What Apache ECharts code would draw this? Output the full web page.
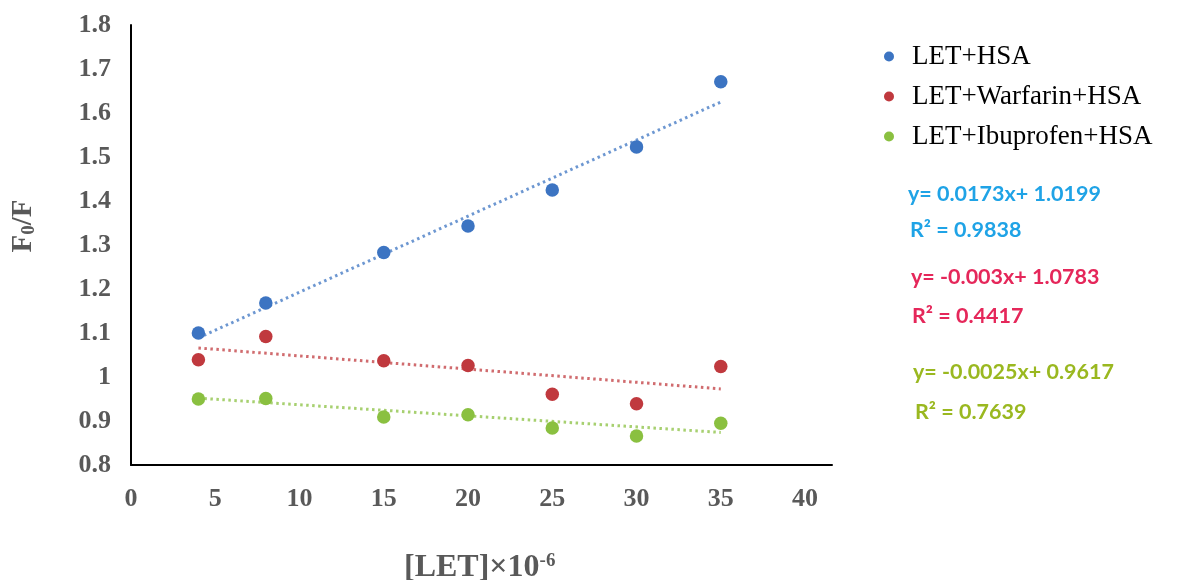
<!DOCTYPE html>
<html>
<head>
<meta charset="utf-8">
<script src="https://cdn.jsdelivr.net/npm/echarts@6/dist/echarts.min.js"></script>
<style>html,body{margin:0;padding:0;background:#fff}#c{width:1184px;height:580px}</style>
</head>
<body>
<div id="c"></div>
<script>
const xValues = [4, 8, 15, 20, 25, 30, 35];
const seriesNames = ['LET+HSA', 'LET+Warfarin+HSA', 'LET+Ibuprofen+HSA'];
const hsa = [1.10, 1.168, 1.283, 1.343, 1.425, 1.523, 1.671];
const warfarin = [1.039, 1.092, 1.037, 1.026, 0.961, 0.939, 1.024];
const ibuprofen = [0.950, 0.951, 0.909, 0.914, 0.884, 0.866, 0.895];
// trendline endpoints (x = 4 and x = 35)
const trendHsa = [[4, 1.089], [35, 1.625]];
const trendWarfarin = [[4, 1.066], [35, 0.973]];
const trendIbuprofen = [[4, 0.952], [35, 0.874]];
const equations = [
  ['y= 0.0173x+ 1.0199', 'R² = 0.9838'],
  ['y= -0.003x+ 1.0783', 'R² = 0.4417'],
  ['y= -0.0025x+ 0.9617', 'R² = 0.7639']
];
const yTicks = {min: 0.8, max: 1.8, interval: 0.1};
const xTicks = {min: 0, max: 41.6, interval: 5};

const colors = ['#3C74C2', '#C0393E', '#8AC040'];
const eqColors = ['#1FA3E6', '#E5275A', '#9AB820'];
const pts = [hsa, warfarin, ibuprofen];
const trends = [trendHsa, trendWarfarin, trendIbuprofen];

const series = [];
seriesNames.forEach((n, i) => {
  series.push({
    name: 'trend ' + n, type: 'line', data: trends[i], symbol: 'none', silent: true,
    lineStyle: {color: colors[i], width: 3, type: [2.5, 3.5], cap: 'butt', opacity: 0.75},
    z: 1
  });
});
seriesNames.forEach((n, i) => {
  series.push({
    name: n, type: 'scatter', symbolSize: 13.5,
    data: xValues.map((x, k) => [x, pts[i][k]]),
    itemStyle: {color: colors[i], opacity: 1}, z: 3
  });
});

const eqFont = 'bold 21.5px Lato, "Open Sans", sans-serif';
const eqPos = [[908, 197, 910, 233], [911, 280, 912, 319], [913, 375, 915, 415]];
const graphics = [];
equations.forEach((e, i) => {
  graphics.push({type: 'text', left: eqPos[i][0], top: eqPos[i][1] - 14,
    style: {text: e[0], fill: eqColors[i], font: eqFont}});
  graphics.push({type: 'text', left: eqPos[i][2], top: eqPos[i][3] - 14,
    style: {text: e[1], fill: eqColors[i], font: eqFont}});
});
graphics.push({
  type: 'text', x: 24, y: 226, rotation: Math.PI / 2,
  style: {
    text: '{a|F}{b|0}{a|/F}', align: 'center', verticalAlign: 'middle',
    rich: {
      a: {fontFamily: '"Liberation Serif", serif', fontWeight: 'bold', fontSize: 29, fill: '#595959'},
      b: {fontFamily: '"Liberation Serif", serif', fontWeight: 'bold', fontSize: 19, fill: '#595959', verticalAlign: 'bottom', padding: [7, 0, 0, 0]}
    }
  }
});
graphics.push({
  type: 'text', x: 404, y: 568,
  style: {
    text: '{a|[LET]×10}{b|-6}', align: 'left', verticalAlign: 'middle',
    rich: {
      a: {fontFamily: '"Liberation Serif", serif', fontWeight: 'bold', fontSize: 32, fill: '#595959'},
      b: {fontFamily: '"Liberation Serif", serif', fontWeight: 'bold', fontSize: 19, fill: '#595959', verticalAlign: 'top', padding: [0, 0, 12, 0]}
    }
  }
});

const axisLabelStyle = {fontFamily: '"Liberation Serif", serif', fontWeight: 'bold', fontSize: 26, color: '#595959'};
const option = {
  animation: false,
  backgroundColor: '#fff',
  grid: {left: 131, right: 352, top: 25, bottom: 115},
  legend: {
    data: seriesNames.map(n => ({name: n, icon: 'circle'})),
    orient: 'vertical', left: 879, top: 38, itemGap: 13,
    itemWidth: 36, itemHeight: 10,
    textStyle: {fontFamily: '"Liberation Serif", serif', fontSize: 27, color: '#000'}
  },
  xAxis: {
    type: 'value', min: xTicks.min, max: xTicks.max, interval: xTicks.interval,
    axisLine: {lineStyle: {color: '#000', width: 2}},
    axisTick: {show: false}, splitLine: {show: false},
    axisLabel: Object.assign({margin: 21, showMaxLabel: false,
      formatter: v => (Math.abs(v / 5 - Math.round(v / 5)) < 1e-6 ? String(Math.round(v)) : '')}, axisLabelStyle)
  },
  yAxis: {
    type: 'value', min: yTicks.min, max: yTicks.max, interval: yTicks.interval,
    axisLine: {show: true, lineStyle: {color: '#000', width: 2}},
    axisTick: {show: false}, splitLine: {show: false},
    axisLabel: Object.assign({margin: 20, formatter: v => String(Math.round(v * 10) / 10)}, axisLabelStyle)
  },
  series: series,
  graphic: graphics
};
const chart = echarts.init(document.getElementById('c'), null, {renderer: 'canvas'});
chart.setOption(option);
</script>
</body>
</html>
